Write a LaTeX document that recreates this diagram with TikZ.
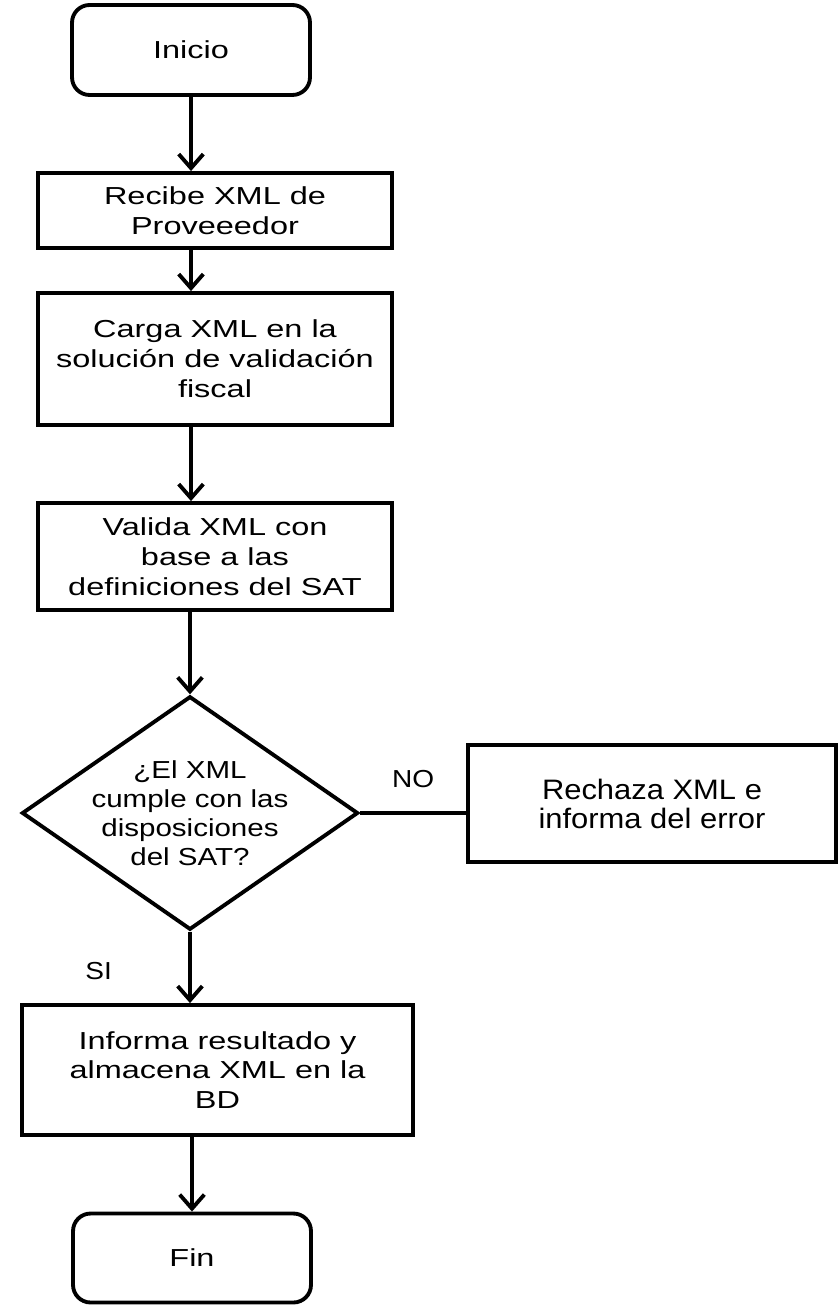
\documentclass[tikz,border=0pt]{standalone}
\usepackage{fontspec}
\setmainfont{Liberation Sans}
\newfontfamily\boxfont[FakeStretch=1.32]{Liberation Sans}
\newfontfamily\diafont[FakeStretch=1.2]{Liberation Sans}
\newfontfamily\errfont[FakeStretch=1.1]{Liberation Sans}
\newfontfamily\lblfont[FakeStretch=1.14]{Liberation Sans}
\usetikzlibrary{positioning,shapes.geometric,arrows.meta}

\begin{document}
\begin{tikzpicture}[x=0.02cm,y=-0.02cm,line width=2.2pt,
  every node/.style={align=center,font=\boxfont\fontsize{14}{17}\selectfont},
  term/.style={draw,rounded corners=10pt,minimum width=4.76cm,minimum height=1.8cm},
  proc/.style={draw,inner sep=0pt,minimum width=7.08cm},
  decision/.style={draw,diamond,aspect=1.44,inner sep=-1.3pt,minimum width=6.55cm,minimum height=4.55cm,
    font=\diafont\fontsize{14}{16.4}\selectfont},
  arr/.style={-{Straight Barb[length=8pt,width=14pt]}},
  lbl/.style={font=\lblfont\fontsize{14}{16}\selectfont}]
\useasboundingbox (0,0) rectangle (839,1307);

\node[term] (inicio) at (191,50) {Inicio};
\node[proc,minimum height=1.5cm] (recibe) at (215,210.5) {Recibe XML de\\Proveeedor};
\node[proc,minimum height=2.64cm] (carga) at (215,359) {Carga XML en la\\solución de validación\\fiscal};
\node[proc,minimum height=2.14cm] (valida) at (215,556.5) {Valida XML con\\base a las\\definiciones del SAT};
\node[decision] (decide) at (190,813) {¿El XML\\cumple con las\\disposiciones\\del SAT?};
\node[proc,minimum width=7.36cm,minimum height=2.34cm,font=\errfont\fontsize{16}{16.5}\selectfont] (rechaza) at (652,803.5) {Rechaza XML e\\informa del error};
\node[proc,minimum width=7.82cm,minimum height=2.6cm] (informa) at (217.5,1070) {Informa resultado y\\almacena XML en la\\BD};
\node[term,minimum height=1.78cm] (fin) at (192,1258) {Fin};

% main flow
\draw[arr] (inicio.south) -- (recibe.north -| inicio.south);
\draw[arr] (recibe.south -| inicio.south) -- (carga.north -| inicio.south);
\draw[arr] (carga.south -| inicio.south) -- (valida.north -| inicio.south);
\draw[arr] (valida.south -| decide.north) -- (decide.north);
\draw (decide.east) -- node[lbl,above=10pt] {NO} (decide.east -| rechaza.west);
\draw[arr] (decide.south) -- node[lbl,pos=0.55,left=40pt] {SI} (informa.north -| decide.south);
\draw[arr] (informa.south -| fin.north) -- (fin.north);
\end{tikzpicture}
\end{document}
